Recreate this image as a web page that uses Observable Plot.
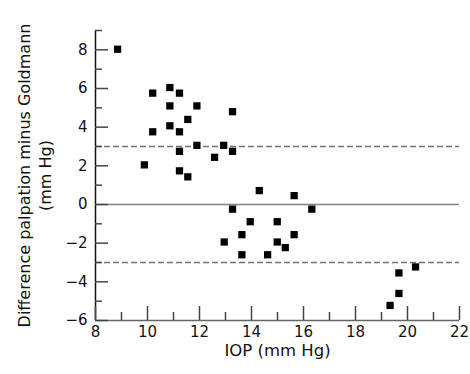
<!DOCTYPE html>
<html>
<head>
<meta charset="utf-8">
<script src="https://cdn.jsdelivr.net/npm/d3@7"></script>
<script src="https://cdn.jsdelivr.net/npm/@observablehq/plot@0.6"></script>
<style>
  body { margin: 0; background: white; }
</style>
</head>
<body>
<div id="chart"></div>
<script>
// IOP (mm Hg) values
const iop = [
  8.85, 10.2, 10.86, 11.23, 10.86, 11.9, 11.55, 13.27, 10.86, 10.2,
  11.23, 11.9, 12.93, 11.23, 13.27, 12.58, 9.88, 11.23, 11.55,
  14.3, 13.27, 13.95, 14.99, 13.63, 12.95, 14.99, 13.63, 14.62,
  15.64, 16.32, 15.64, 15.3,
  20.31, 19.67, 19.67, 19.33
];
// Difference palpation minus Goldmann (mm Hg)
const diff = [
  8.03, 5.76, 6.05, 5.76, 5.1, 5.1, 4.4, 4.8, 4.07, 3.76,
  3.76, 3.06, 3.06, 2.75, 2.75, 2.44, 2.05, 1.74, 1.43,
  0.72, -0.24, -0.89, -0.89, -1.56, -1.94, -1.94, -2.6, -2.6,
  0.46, -0.24, -1.56, -2.23,
  -3.23, -3.54, -4.6, -5.22
];
const limits = [3, -3];
const zeroLine = [0];
const xMajor = [8, 10, 12, 14, 16, 18, 20, 22];
const xMinor = [9, 11, 13, 15, 17, 19, 21];
const yMajor = [-6, -4, -2, 0, 2, 4, 6, 8];
const yMinor = [-5, -3, -1, 1, 3, 5, 7, 9];
const xTitle = "IOP (mm Hg)";
const yTitle = "Difference palpation minus Goldmann\n(mm Hg)";

const W = 470, H = 374, ML = 95, MR = 11, MT = 30, MB = 54;
const plotW = W - ML - MR, plotH = H - MT - MB;

const data = iop.map((x, i) => ({x, y: diff[i]}));
const fmt = d => d < 0 ? "\u2212" + (-d) : String(d);

const chart = Plot.plot({
  width: W,
  height: H,
  marginLeft: ML,
  marginRight: MR,
  marginTop: MT,
  marginBottom: MB,
  style: {fontFamily: "'DejaVu Sans', sans-serif", fontSize: "15px", background: "white", color: "#111"},
  x: {domain: [8, 22]},
  y: {domain: [-6, 9]},
  marks: [
    Plot.ruleY(zeroLine, {stroke: "#808080", strokeWidth: 1.3}),
    Plot.ruleY(limits, {stroke: "#707070", strokeWidth: 1.3, strokeDasharray: "6,3"}),
    Plot.ruleY([-6], {stroke: "#666", strokeWidth: 1.5}),
    Plot.ruleX([8], {stroke: "#111", strokeWidth: 1.5}),
    Plot.tickY(yMajor, {y: d => d, insetRight: plotW - 13, stroke: "#444", strokeWidth: 1.5}),
    Plot.tickY(yMinor, {y: d => d, insetRight: plotW - 7, stroke: "#444", strokeWidth: 1.5}),
    Plot.tickX(xMajor, {x: d => d, insetTop: plotH - 14, stroke: "#444", strokeWidth: 1.5}),
    Plot.tickX(xMinor, {x: d => d, insetTop: plotH - 8, stroke: "#444", strokeWidth: 1.5}),
    Plot.axisY({ticks: yMajor, tickSize: 0, tickPadding: 8, tickFormat: fmt, label: null, fontSize: 15, fill: "#111"}),
    Plot.axisX({ticks: xMajor, tickSize: 0, tickPadding: 6, tickFormat: fmt, label: null, fontSize: 15, fill: "#111"}),
    Plot.dot(data, {x: "x", y: "y", symbol: "square", r: 4.1, fill: "black", stroke: null}),
    Plot.text([xTitle], {frameAnchor: "bottom", dy: 35, fontSize: 16.5, fill: "#111"}),
    Plot.text([yTitle], {frameAnchor: "left", rotate: -90, dx: -62, fontSize: 16, lineHeight: 1.35, fill: "#111", textAnchor: "middle", lineAnchor: "middle"})
  ]
});
document.getElementById("chart").appendChild(chart);
</script>
</body>
</html>
